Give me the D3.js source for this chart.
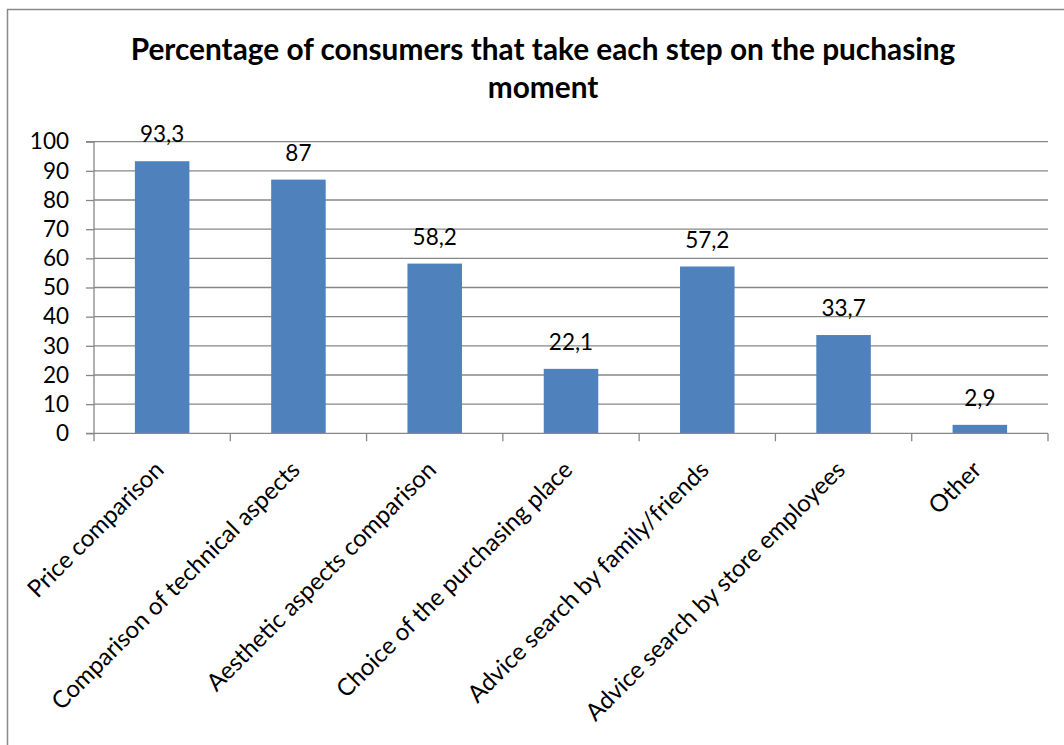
<!DOCTYPE html>
<html>
<head>
<meta charset="utf-8">
<script src="https://cdn.jsdelivr.net/npm/d3@7"></script>
<style>
  html, body { margin: 0; padding: 0; background: #fff; }
  svg { display: block; font-family: Lato, "Open Sans", sans-serif; }
</style>
</head>
<body>
<svg id="chart" width="1064" height="745"></svg>
<script>
// Steps consumers take at the purchasing moment (% of consumers)
const categories = [
  "Price comparison",
  "Comparison of technical aspects",
  "Aesthetic aspects comparison",
  "Choice of the purchasing place",
  "Advice search by family/friends",
  "Advice search by store employees",
  "Other"
];
const values = [93.3, 87, 58.2, 22.1, 57.2, 33.7, 2.9];
const yTicks = [0, 10, 20, 30, 40, 50, 60, 70, 80, 90, 100];
const titleLines = [
  "Percentage of consumers that take each step on the puchasing",
  "moment"
];

const svg = d3.select("#chart");
const W = 1064, H = 745;
const plot = { left: 94, right: 1048, top: 141.7, bottom: 433.3 };
const gridColor = "#878787";
const barColor = "#4F81BD";
const numSize = 22.5;
const catSize = 24;

// outer chart frame
svg.append("rect")
  .attr("x", 7.5).attr("y", 9.5)
  .attr("width", W + 10).attr("height", H + 10)
  .attr("fill", "#fff").attr("stroke", "#888").attr("stroke-width", 1.5);

// title
svg.append("text")
  .attr("text-anchor", "middle")
  .attr("font-weight", "bold")
  .attr("font-size", 29.8)
  .attr("fill", "#000")
  .selectAll("tspan")
  .data(titleLines)
  .join("tspan")
  .attr("x", 543)
  .attr("y", (d, i) => 60 + i * 38)
  .text(d => d);

const x = d3.scaleBand()
  .domain(categories)
  .range([plot.left, plot.right])
  .paddingInner(0.6)
  .paddingOuter(0.3);

const y = d3.scaleLinear()
  .domain([0, 100])
  .range([plot.bottom, plot.top]);

// horizontal gridlines
svg.append("g")
  .selectAll("line")
  .data(yTicks.filter(d => d > 0))
  .join("line")
  .attr("x1", plot.left).attr("x2", plot.right)
  .attr("y1", d => y(d)).attr("y2", d => y(d))
  .attr("stroke", gridColor).attr("stroke-width", 1.3);

// y axis
const yAxis = svg.append("g")
  .attr("transform", `translate(${plot.left},0)`)
  .call(d3.axisLeft(y).tickValues(yTicks).tickSize(8).tickPadding(17).tickFormat(d3.format("d")));
yAxis.selectAll("path, line").attr("stroke", gridColor).attr("stroke-width", 1.3);
yAxis.select(".domain").attr("d", `M-8,${plot.top}H0V${plot.bottom}H-8`);
yAxis.selectAll("text")
  .attr("font-size", numSize).attr("fill", "#000")
  .attr("font-family", "Lato, 'Open Sans', sans-serif");

// bars
svg.append("g")
  .selectAll("rect")
  .data(values)
  .join("rect")
  .attr("x", (d, i) => x(categories[i]))
  .attr("y", d => y(d))
  .attr("width", x.bandwidth())
  .attr("height", d => y(0) - y(d))
  .attr("fill", barColor);

// bottom axis line and category boundary ticks
const step = x.step();
const boundaries = d3.range(categories.length + 1).map(i => plot.left + i * step);
svg.append("line")
  .attr("x1", plot.left).attr("x2", plot.right)
  .attr("y1", y(0)).attr("y2", y(0))
  .attr("stroke", gridColor).attr("stroke-width", 1.3);
svg.append("g")
  .selectAll("line")
  .data(boundaries)
  .join("line")
  .attr("x1", d => d).attr("x2", d => d)
  .attr("y1", y(0)).attr("y2", y(0) + 8)
  .attr("stroke", gridColor).attr("stroke-width", 1.3);

// value labels
const fmt = v => String(v).replace(".", ",");
svg.append("g")
  .selectAll("text")
  .data(values)
  .join("text")
  .attr("x", (d, i) => x(categories[i]) + x.bandwidth() / 2)
  .attr("y", d => y(d) - 19)
  .attr("text-anchor", "middle")
  .attr("font-size", numSize)
  .attr("fill", "#000")
  .text(fmt);

// rotated category labels
svg.append("g")
  .selectAll("text")
  .data(categories)
  .join("text")
  .attr("transform", d => `translate(${x(d) + x.bandwidth() / 2 + 3},${y(0) + 38}) rotate(-45)`)
  .attr("text-anchor", "end")
  .attr("font-size", catSize)
  .attr("fill", "#000")
  .text(d => d);
</script>
</body>
</html>
